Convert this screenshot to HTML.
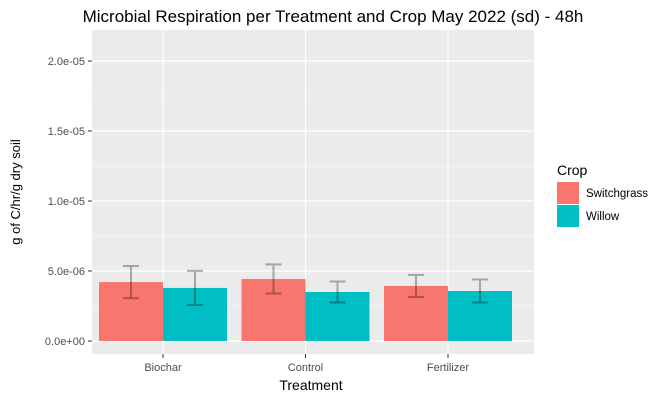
<!DOCTYPE html>
<html><head><meta charset="utf-8"><style>
body{margin:0;background:#fff;font-family:"Liberation Sans",sans-serif}
</style></head><body>
<svg id="chart" width="666" height="401" xmlns="http://www.w3.org/2000/svg" font-family="Liberation Sans, sans-serif">
<text x="333" y="22" text-anchor="middle" font-size="17" fill="#000">Microbial Respiration per Treatment and Crop May 2022 (sd) - 48h</text>
<rect x="92" y="30" width="442" height="324" fill="#ebebeb"/>
<g id="grid"></g><g id="bars"></g><g id="axes"></g>
<text x="311" y="390" text-anchor="middle" font-size="14">Treatment</text>
<text transform="translate(20,192) rotate(-90)" text-anchor="middle" font-size="13">g of C/hr/g dry soil</text>
<g>
<text x="557" y="175" font-size="14">Crop</text>
<rect x="557" y="182" width="22" height="22" fill="#f8766d"/>
<text x="586" y="197" font-size="11.5">Switchgrass</text>
<rect x="557" y="205" width="22" height="22" fill="#00bfc4"/>
<text x="586" y="220" font-size="11.5">Willow</text>
</g>
</svg>
<script>
const categories=["Biochar","Control","Fertilizer"];
const switchgrass=[4.21e-6,4.43e-6,3.93e-6];
const switchgrassSd=[1.15e-6,1.04e-6,0.79e-6];
const willow=[3.79e-6,3.5e-6,3.57e-6];
const willowSd=[1.22e-6,0.75e-6,0.82e-6];
const yTicks=[0,5e-6,1e-5,1.5e-5,2e-5];
const yTickLabels=["0.0e+00","5.0e-06","1.0e-05","1.5e-05","2.0e-05"];
const NS="http://www.w3.org/2000/svg";
const y=v=>341-v*14e6;
const xc=i=>163+i*142.5;
const bw=64;
function mk(tag,attrs,parent){const e=document.createElementNS(NS,tag);for(const k in attrs)e.setAttribute(k,attrs[k]);document.getElementById(parent).appendChild(e);return e;}
for(let i=0;i<yTicks.length;i++){
 if(i<yTicks.length-1){const m=mk('line',{x1:92,x2:534,y1:y((yTicks[i]+yTicks[i+1])/2),y2:y((yTicks[i]+yTicks[i+1])/2),stroke:'#fff','stroke-width':0.6},'grid');
 
 }
 const g=mk('line',{x1:92,x2:534,y1:y(yTicks[i]),y2:y(yTicks[i]),stroke:'#fff','stroke-width':1.2},'grid');
 
 
 const t=mk('line',{x1:88,x2:92,y1:y(yTicks[i]),y2:y(yTicks[i]),stroke:'#333'},'axes');
 
 
 const l=mk('text',{x:85,y:y(yTicks[i])+4,'text-anchor':'end','font-size':11,fill:'#4d4d4d'},'axes');
 l.textContent=yTickLabels[i];
 
 
}
categories.forEach((c,i)=>{
 const g=mk('line',{x1:xc(i),x2:xc(i),y1:30,y2:354,stroke:'#fff','stroke-width':1.2},'grid');
 
 
 const t=mk('line',{x1:xc(i),x2:xc(i),y1:354,y2:358,stroke:'#333'},'axes');
 
 
 const l=mk('text',{x:xc(i),y:371,'text-anchor':'middle','font-size':11,fill:'#4d4d4d'},'axes');
 l.textContent=c;
 
 
 [[switchgrass,switchgrassSd,'#f8766d',-bw,'switchgrass'],[willow,willowSd,'#00bfc4',0,'willow']].forEach(([vals,sd,col,off,nm])=>{
  const b=mk('rect',{x:xc(i)+off,y:y(vals[i]),width:bw,height:y(0)-y(vals[i]),fill:col},'bars');
  
  
  const cx=xc(i)+off+bw/2,t=y(vals[i]+sd[i]),bt=y(vals[i]-sd[i]);
  const e=mk('path',{d:`M${cx-8},${t}H${cx+8}M${cx},${t}V${bt}M${cx-8},${bt}H${cx+8}`,stroke:'#000','stroke-opacity':0.3,'stroke-width':2,fill:'none'},'bars');
  
  
 });
});
</script>
</body></html>
